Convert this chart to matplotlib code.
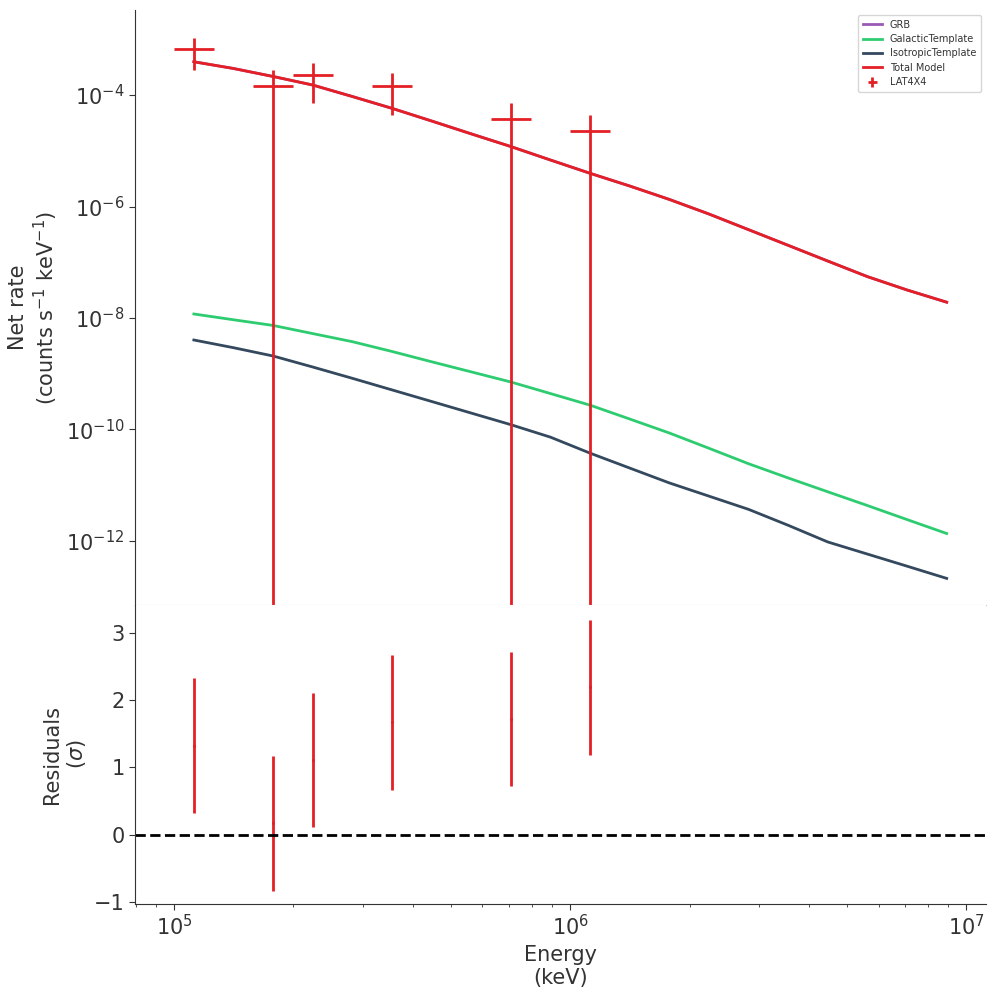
import numpy as np
import matplotlib
matplotlib.use("Agg")
import matplotlib.pyplot as plt

# ---- model grid (bin centres, keV) ----
energy = [1.122e5, 1.413e5, 1.778e5, 2.239e5, 2.818e5, 3.548e5, 4.467e5, 5.623e5,
          7.079e5, 8.913e5, 1.122e6, 1.413e6, 1.778e6, 2.239e6, 2.818e6, 3.548e6,
          4.467e6, 5.623e6, 7.079e6, 8.913e6]
grb = [3.95e-4, 2.99e-4, 2.15e-4, 1.51e-4, 9.4e-5, 5.77e-5, 3.42e-5, 2.01e-5,
       1.19e-5, 6.82e-6, 3.94e-6, 2.33e-6, 1.34e-6, 7.33e-7, 3.84e-7, 2.01e-7,
       1.05e-7, 5.52e-8, 3.18e-8, 1.92e-8]
galactic = [1.18e-8, 9.29e-9, 7.35e-9, 5.25e-9, 3.76e-9, 2.51e-9, 1.64e-9, 1.08e-9,
            7.11e-10, 4.41e-10, 2.73e-10, 1.54e-10, 8.65e-11, 4.60e-11, 2.43e-11,
            1.35e-11, 7.62e-12, 4.32e-12, 2.42e-12, 1.36e-12]
isotropic = [4.03e-9, 2.93e-9, 2.08e-9, 1.32e-9, 8.28e-10, 5.13e-10, 3.18e-10,
             1.97e-10, 1.22e-10, 7.28e-11, 3.76e-11, 2.03e-11, 1.10e-11, 6.37e-12,
             3.69e-12, 1.91e-12, 9.59e-13, 5.82e-13, 3.53e-13, 2.13e-13]
total = [g + a + b for g, a, b in zip(grb, galactic, isotropic)]

# ---- data (LAT4X4) ----
e_lo = [1.000e5, 1.585e5, 1.995e5, 3.162e5, 6.310e5, 1.000e6]
e_hi = [1.259e5, 1.995e5, 2.512e5, 3.981e5, 7.943e5, 1.259e6]
e_c = [1.122e5, 1.778e5, 2.239e5, 3.548e5, 7.079e5, 1.122e6]
rate = [6.77e-4, 1.45e-4, 2.28e-4, 1.45e-4, 3.66e-5, 2.26e-5]
rate_err_lo = [3.95e-4, 1.46e-4, 1.55e-4, 1.02e-4, 3.70e-5, 2.30e-5]
rate_err_hi = [3.95e-4, 1.36e-4, 1.55e-4, 1.02e-4, 3.44e-5, 2.10e-5]
resid = [1.32, 0.17, 1.11, 1.67, 1.72, 2.19]
resid_err = [1.0, 1.0, 1.0, 1.0, 1.0, 1.0]

RED = "#e41f26"
TXT = "#333333"

plt.rcParams.update({
    "font.family": ["DejaVu Sans"],
    "text.color": TXT,
    "axes.labelcolor": TXT,
    "xtick.color": TXT,
    "ytick.color": TXT,
    "axes.edgecolor": TXT,
})

fig = plt.figure(figsize=(9.95, 9.96), dpi=100)
gs = fig.add_gridspec(2, 1, height_ratios=[595, 299], hspace=0,
                      left=135/995, right=986/995, top=1-10/996, bottom=1-904/996)
ax = fig.add_subplot(gs[0])
axr = fig.add_subplot(gs[1], sharex=ax)

ax.plot(energy, grb, color="#9b59b6", lw=2, label="GRB")
ax.plot(energy, galactic, color="#2ecc71", lw=2, label="GalacticTemplate")
ax.plot(energy, isotropic, color="#34495e", lw=2, label="IsotropicTemplate")
ax.plot(energy, total, color=RED, lw=2, label="Total Model")

xerr = [[c - l for c, l in zip(e_c, e_lo)], [h - c for c, h in zip(e_c, e_hi)]]
ax.errorbar(e_c, rate, xerr=xerr, yerr=[rate_err_lo, rate_err_hi], fmt="none",
            ecolor=RED, elinewidth=2, capsize=0, label="LAT4X4")

ax.set_xscale("log")
ax.set_yscale("log")
ax.set_xlim(7.97e4, 1.12e7)
ax.set_ylim(7.1e-14, 3.35e-3)
ax.set_ylabel("Net rate\n(counts s$^{-1}$ keV$^{-1}$)", fontsize=15)
ax.tick_params(axis="y", labelsize=15, direction="out", length=4)
ax.tick_params(axis="x", which="both", labelbottom=False, length=0)
ax.spines["top"].set_visible(False)
ax.spines["right"].set_visible(False)
ax.spines["bottom"].set_color("#cccccc")
leg = ax.legend(loc="upper right", fontsize=7, frameon=True, fancybox=True,
                borderpad=0.5, handlelength=2.0, labelspacing=0.45)
leg.get_frame().set_edgecolor("#cccccc")

axr.errorbar(e_c, resid, yerr=resid_err, fmt=".", color=RED, ecolor=RED,
             elinewidth=2, capsize=0, markersize=2.5)
axr.axhline(0, color="black", ls="--", lw=2)
axr.set_ylim(-1.025, 3.41)
axr.set_yticks([-1, 0, 1, 2, 3])
axr.set_xlabel("Energy\n(keV)", fontsize=15)
axr.set_ylabel("Residuals\n($\\sigma$)", fontsize=15)
axr.tick_params(axis="both", which="major", labelsize=15, direction="out", length=4)
axr.tick_params(axis="x", which="minor", direction="out", length=2.5)
axr.spines["top"].set_visible(False)
axr.spines["right"].set_visible(False)

fig.savefig("out.png", dpi=100)
